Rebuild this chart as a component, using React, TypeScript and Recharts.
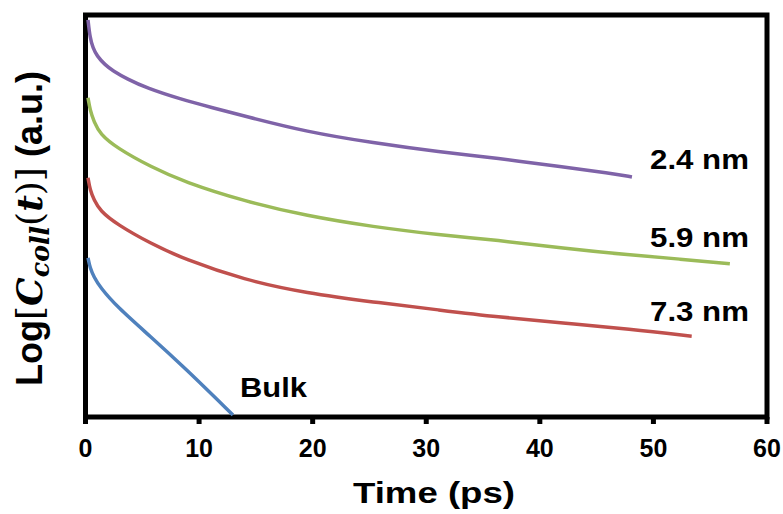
import React from 'react';
import { LineChart, Line, XAxis, YAxis, ReferenceArea, ReferenceDot } from 'recharts';

// Time (ps) and Log[C_coll(t)] (a.u.)
const time24 = [0.22, 0.4, 0.66, 1.01, 1.72, 2.42, 3.65, 5.41, 8.32, 11.22, 13.95, 19.5, 25.31, 31.21, 36.22, 42.03, 46.17, 48.11];
const logC24 = [98.8, 94.3, 91.8, 89.8, 87.6, 86.1, 84.1, 81.8, 79.1, 76.9, 74.9, 70.9, 68.2, 65.9, 64.4, 62.2, 60.7, 59.7];

const time59 = [0.22, 0.4, 0.75, 1.28, 2.77, 5.77, 8.67, 13.95, 19.5, 25.31, 31.21, 36.22, 42.03, 47.93, 52.33, 56.73];
const logC59 = [79.4, 76.4, 73.4, 70.4, 66.9, 62.2, 58.5, 53.7, 50.0, 47.3, 45.3, 44.0, 42.0, 40.3, 39.3, 38.1];

const time73 = [0.22, 0.4, 0.75, 1.28, 2.77, 5.77, 8.67, 13.95, 19.5, 25.31, 31.21, 36.22, 42.03, 47.93, 53.37];
const logC73 = [59.5, 56.5, 54.0, 51.3, 47.9, 43.1, 39.3, 34.1, 30.8, 28.6, 26.6, 24.9, 23.4, 21.9, 20.1];

const timeBulk = [0.22, 0.4, 0.75, 1.28, 2.77, 5.77, 8.67, 12.98];
const logCBulk = [39.6, 37.1, 34.8, 32.3, 27.4, 19.9, 12.4, 0.5];

const xTicks = [0, 10, 20, 30, 40, 50, 60];

const seriesNames = ['2.4 nm', '5.9 nm', '7.3 nm', 'Bulk'];
const seriesColors = ['#7F63A8', '#9BBB59', '#C0504D', '#4F81BD'];
const labelTime = [49.7, 49.7, 49.7, 13.6];
const labelLogC = [61.7, 42.3, 23.9, 5.0];
const labelWidths = [99, 99, 99, 67];

const zip = (t: number[], v: number[]) => t.map((x, i) => ({ t: x, v: v[i] }));
const seriesData = [zip(time24, logC24), zip(time59, logC59), zip(time73, logC73), zip(timeBulk, logCBulk)];

const SANS = "'Liberation Sans', Arial, sans-serif";
const SERIF = "'DejaVu Serif', 'Liberation Serif', serif";

const XTitle = (props: any) => {
  const vb = props.viewBox || {};
  return (
    <text x={vb.x + 267.5} y={vb.y + 86} fontFamily={SANS} fontWeight="bold" fontSize={30} fill="#000" textLength={162} lengthAdjust="spacingAndGlyphs">
      Time (ps)
    </text>
  );
};

const YTitle = (props: any) => {
  const vb = props.viewBox || {};
  const tx = vb.x + vb.width - 44;
  const ty = vb.y + vb.height / 2 + 12.5;
  return (
    <text transform={`translate(${tx},${ty}) scale(1.2,1) rotate(-90)`} textAnchor="middle" fontSize={30} fill="#000" textLength={315} lengthAdjust="spacingAndGlyphs">
      <tspan fontFamily={SANS} fontWeight="bold">Log</tspan>
      <tspan fontFamily={SERIF}>[</tspan>
      <tspan fontFamily={SERIF} fontStyle="italic" fontWeight="bold">C</tspan>
      <tspan fontFamily={SERIF} fontStyle="italic" fontWeight="bold" fontSize={21} dy={6}>coll</tspan>
      <tspan fontFamily={SERIF} dy={-6}>(</tspan>
      <tspan fontFamily={SERIF} fontStyle="italic" fontWeight="bold">t</tspan>
      <tspan fontFamily={SERIF}>)]</tspan>
      <tspan fontFamily={SANS} fontWeight="bold"> (a.u.)</tspan>
    </text>
  );
};

export default function App() {
  return (
    <div style={{ position: 'absolute', left: 0, top: 0, background: '#fff' }}>
      <LineChart width={783} height={514} margin={{ top: 15, right: 16, bottom: 0, left: 25.5 }}>
        <XAxis
          dataKey="t"
          type="number"
          domain={[0, 60]}
          ticks={xTicks}
          allowDataOverflow
          height={97}
          axisLine={false}
          tickLine={{ stroke: '#000', strokeWidth: 5 }}
          tickSize={7}
          tickMargin={15}
          tick={{ fill: '#000', fontSize: 25, fontWeight: 'bold', fontFamily: SANS }}
          label={<XTitle />}
        />
        <YAxis
          dataKey="v"
          type="number"
          domain={[0, 100]}
          allowDataOverflow
          width={60}
          tick={false}
          tickLine={false}
          axisLine={false}
          label={<YTitle />}
        />
        {seriesData.map((d, i) => (
          <Line
            key={seriesNames[i]}
            data={d}
            dataKey="v"
            name={seriesNames[i]}
            type="basis"
            stroke={seriesColors[i]}
            strokeWidth={3.5}
            dot={false}
            isAnimationActive={false}
          />
        ))}
        <ReferenceArea x1={0} x2={60} y1={0} y2={100} fill="none" fillOpacity={0} stroke="#000" strokeWidth={5} ifOverflow="visible" />
        {seriesNames.map((n, i) => (
          <ReferenceDot
            key={'lab' + n}
            x={labelTime[i]}
            y={labelLogC[i]}
            r={0}
            ifOverflow="visible"
            shape={(p: any) => (
              <text x={p.cx} y={p.cy} fontFamily={SANS} fontWeight="bold" fontSize={27} fill="#000" textLength={labelWidths[i]} lengthAdjust="spacingAndGlyphs">
                {n}
              </text>
            )}
          />
        ))}
      </LineChart>
    </div>
  );
}
